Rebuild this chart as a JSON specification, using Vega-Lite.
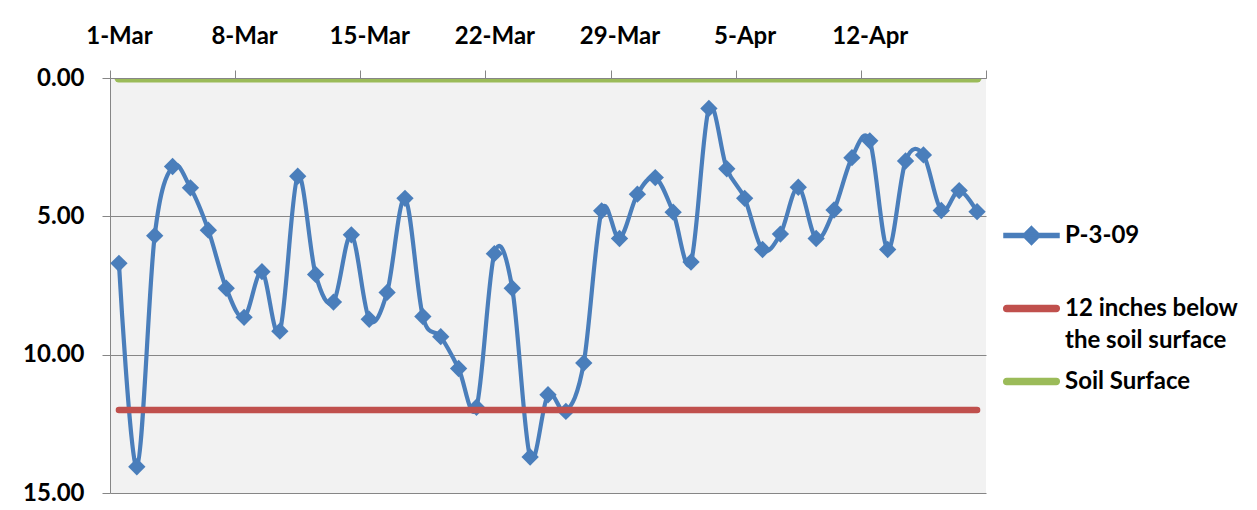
{
  "$schema": "https://vega.github.io/schema/vega-lite/v6.json",
  "width": 876,
  "height": 415,
  "autosize": {"type": "none"},
  "padding": {"left": 110, "top": 78, "right": 271, "bottom": 17},
  "background": "white",
  "config": {
    "view": {"stroke": null, "fill": "#f2f2f2"},
    "font": "Lato",
    "axis": {"labelFont": "Lato", "labelFontWeight": "bold", "labelFontSize": 24, "labelColor": "#000000", "domainColor": "#868686", "tickColor": "#868686", "gridColor": "#868686", "tickSize": 8, "title": null},
    "legend": {"labelFont": "Lato", "labelFontWeight": "bold", "labelFontSize": 24, "labelColor": "#000000"}
  },
  "datasets": {
    "p309": [
      {"date": "2013-03-01", "series": "P-3-09", "depth": 6.7},
      {"date": "2013-03-02", "series": "P-3-09", "depth": 14.05},
      {"date": "2013-03-03", "series": "P-3-09", "depth": 5.7},
      {"date": "2013-03-04", "series": "P-3-09", "depth": 3.2},
      {"date": "2013-03-05", "series": "P-3-09", "depth": 3.97},
      {"date": "2013-03-06", "series": "P-3-09", "depth": 5.5},
      {"date": "2013-03-07", "series": "P-3-09", "depth": 7.6},
      {"date": "2013-03-08", "series": "P-3-09", "depth": 8.65},
      {"date": "2013-03-09", "series": "P-3-09", "depth": 7.0},
      {"date": "2013-03-10", "series": "P-3-09", "depth": 9.15},
      {"date": "2013-03-11", "series": "P-3-09", "depth": 3.55},
      {"date": "2013-03-12", "series": "P-3-09", "depth": 7.1},
      {"date": "2013-03-13", "series": "P-3-09", "depth": 8.1},
      {"date": "2013-03-14", "series": "P-3-09", "depth": 5.67},
      {"date": "2013-03-15", "series": "P-3-09", "depth": 8.72},
      {"date": "2013-03-16", "series": "P-3-09", "depth": 7.75},
      {"date": "2013-03-17", "series": "P-3-09", "depth": 4.35},
      {"date": "2013-03-18", "series": "P-3-09", "depth": 8.62},
      {"date": "2013-03-19", "series": "P-3-09", "depth": 9.35},
      {"date": "2013-03-20", "series": "P-3-09", "depth": 10.5},
      {"date": "2013-03-21", "series": "P-3-09", "depth": 11.9},
      {"date": "2013-03-22", "series": "P-3-09", "depth": 6.35},
      {"date": "2013-03-23", "series": "P-3-09", "depth": 7.6},
      {"date": "2013-03-24", "series": "P-3-09", "depth": 13.7},
      {"date": "2013-03-25", "series": "P-3-09", "depth": 11.45},
      {"date": "2013-03-26", "series": "P-3-09", "depth": 12.05},
      {"date": "2013-03-27", "series": "P-3-09", "depth": 10.3},
      {"date": "2013-03-28", "series": "P-3-09", "depth": 4.8},
      {"date": "2013-03-29", "series": "P-3-09", "depth": 5.8},
      {"date": "2013-03-30", "series": "P-3-09", "depth": 4.2},
      {"date": "2013-03-31", "series": "P-3-09", "depth": 3.6},
      {"date": "2013-04-01", "series": "P-3-09", "depth": 4.85},
      {"date": "2013-04-02", "series": "P-3-09", "depth": 6.65},
      {"date": "2013-04-03", "series": "P-3-09", "depth": 1.1},
      {"date": "2013-04-04", "series": "P-3-09", "depth": 3.28},
      {"date": "2013-04-05", "series": "P-3-09", "depth": 4.35},
      {"date": "2013-04-06", "series": "P-3-09", "depth": 6.2},
      {"date": "2013-04-07", "series": "P-3-09", "depth": 5.64},
      {"date": "2013-04-08", "series": "P-3-09", "depth": 3.95},
      {"date": "2013-04-09", "series": "P-3-09", "depth": 5.8},
      {"date": "2013-04-10", "series": "P-3-09", "depth": 4.77},
      {"date": "2013-04-11", "series": "P-3-09", "depth": 2.88},
      {"date": "2013-04-12", "series": "P-3-09", "depth": 2.27},
      {"date": "2013-04-13", "series": "P-3-09", "depth": 6.2},
      {"date": "2013-04-14", "series": "P-3-09", "depth": 3.0},
      {"date": "2013-04-15", "series": "P-3-09", "depth": 2.78},
      {"date": "2013-04-16", "series": "P-3-09", "depth": 4.79},
      {"date": "2013-04-17", "series": "P-3-09", "depth": 4.07},
      {"date": "2013-04-18", "series": "P-3-09", "depth": 4.83}
    ],
    "refs": [
      {"date": "2013-03-01", "series": "12 inches below the soil surface", "depth": 12},
      {"date": "2013-04-18", "series": "12 inches below the soil surface", "depth": 12},
      {"date": "2013-03-01", "series": "Soil Surface", "depth": 0},
      {"date": "2013-04-18", "series": "Soil Surface", "depth": 0}
    ]
  },
  "encoding": {
    "x": {
      "field": "date",
      "type": "temporal",
      "timeUnit": "utcyearmonthdate",
      "bandPosition": 0.5,
      "scale": {"type": "utc", "domain": [{"year": 2013, "month": 3, "date": 1, "utc": true}, {"year": 2013, "month": 4, "date": 19, "utc": true}]},
      "axis": {
        "orient": "top",
        "grid": false,
        "zindex": 1,
        "labelFlush": false,
        "labelOverlap": false,
        "values": [
          {"year": 2013, "month": 3, "date": 1, "utc": true},
          {"year": 2013, "month": 3, "date": 8, "utc": true},
          {"year": 2013, "month": 3, "date": 15, "utc": true},
          {"year": 2013, "month": 3, "date": 22, "utc": true},
          {"year": 2013, "month": 3, "date": 29, "utc": true},
          {"year": 2013, "month": 4, "date": 5, "utc": true},
          {"year": 2013, "month": 4, "date": 12, "utc": true},
          {"year": 2013, "month": 4, "date": 19, "utc": true}
        ],
        "labelExpr": "(utcmonth(datum.value) == 3 && utcdate(datum.value) == 19) ? '' : utcFormat(datum.value, '%-d-%b')",
        "labelOffset": 8.94,
        "labelPadding": 22
      }
    },
    "y": {
      "field": "depth",
      "type": "quantitative",
      "scale": {"domain": [0, 15], "reverse": true, "nice": false, "zero": false},
      "axis": {"values": [0, 5, 10, 15], "format": ".2f", "grid": true, "labelPadding": 18, "gridWidth": 1}
    },
    "color": {
      "field": "series",
      "type": "nominal",
      "scale": {"domain": ["P-3-09", "12 inches below the soil surface", "Soil Surface"], "range": ["#4a7ebb", "#c0504d", "#9bbb59"]},
      "legend": {
        "title": null,
        "orient": "none",
        "legendX": 893,
        "legendY": 129,
        "symbolSize": 3025,
        "labelOffset": 5,
        "rowPadding": 0,
        "labelLimit": 400,
        "labelExpr": "datum.label == '12 inches below the soil surface' ? ['12 inches below', 'the soil surface'] : [datum.label, '']",
        "encode": {
          "labels": {"update": {"lineHeight": {"value": 32}}},
          "symbols": {
            "update": {
              "shape": {"signal": "datum.value === 'P-3-09' ? 'M-1,-0.07L1,-0.07L1,0.07L-1,0.07Z M0,-0.33L0.33,0L0,0.33L-0.33,0Z' : 'M-0.9,-0.11L0.9,-0.11A0.11,0.11 0 0 1 0.9,0.11L-0.9,0.11A0.11,0.11 0 0 1 -0.9,-0.11Z'"},
              "fill": {"signal": "scale('color', datum.value)"},
              "stroke": {"value": "transparent"},
              "opacity": {"value": 1},
              "fillOpacity": {"value": 1}
            }
          }
        }
      }
    }
  },
  "layer": [
    {
      "data": {"name": "p309"},
      "mark": {"type": "line", "interpolate": "cardinal", "strokeWidth": 4.2}
    },
    {
      "data": {"name": "p309"},
      "mark": {"type": "point", "shape": "diamond", "filled": true, "size": 300, "opacity": 1}
    },
    {
      "data": {"name": "refs"},
      "transform": [{"filter": "datum.series == 'Soil Surface'"}],
      "mark": {"type": "line", "strokeWidth": 9, "strokeCap": "round", "clip": true}
    },
    {
      "data": {"name": "refs"},
      "transform": [{"filter": "datum.series != 'Soil Surface'"}],
      "mark": {"type": "line", "strokeWidth": 6.5, "strokeCap": "round"}
    }
  ]
}
